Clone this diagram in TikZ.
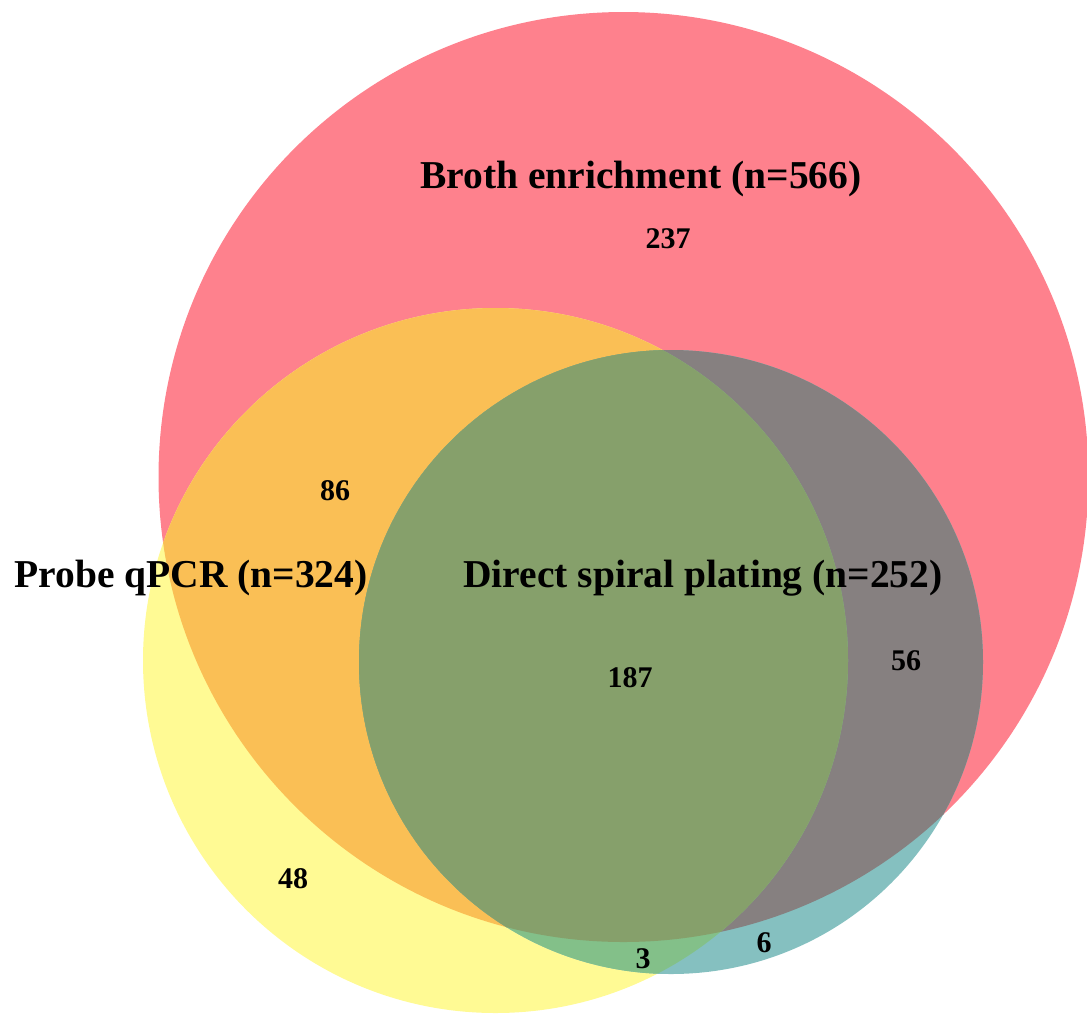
\documentclass[tikz,border=0pt]{standalone}
\usepackage{fontspec}
\setmainfont{Liberation Serif}
\definecolor{cR}{HTML}{FE818D}
\definecolor{cY}{HTML}{FFFA94}
\definecolor{cT}{HTML}{85C0C0}
\definecolor{cRY}{HTML}{FABF55}
\definecolor{cRT}{HTML}{868080}
\definecolor{cYT}{HTML}{83C089}
\definecolor{cRYT}{HTML}{86A06B}
\tikzset{
  setlabel/.style={anchor=base, inner sep=0pt, font=\fontsize{39.5}{40}\selectfont\bfseries},
  countlabel/.style={anchor=base, inner sep=0pt, font=\fontsize{30}{30}\selectfont\bfseries}
}
\begin{document}
\begin{tikzpicture}[x=1pt,y=-1pt]
\useasboundingbox (0,0) rectangle (1087,1013);
\def\circR{(623.5,477) circle (465)}
\def\circY{(495.5,660.5) circle (352.5)}
\def\circT{(671,662) circle (312)}
\fill[cR] \circR;
\fill[cY] \circY;
\fill[cT] \circT;
\begin{scope}
  \clip \circR;
  \fill[cRY] \circY;
  \fill[cRT] \circT;
\end{scope}
\begin{scope}
  \clip \circY;
  \fill[cYT] \circT;
\end{scope}
\begin{scope}
  \clip \circR;
  \clip \circY;
  \fill[cRYT] \circT;
\end{scope}
\node[setlabel] (broth) at (641,188) {Broth enrichment (n=566)};
\node[setlabel] (probe) at (191,587) {Probe qPCR (n=324)};
\node[setlabel] (direct) at (703,587) {Direct spiral plating (n=252)};
\node[countlabel] (n237) at (668,248) {237};
\node[countlabel] (n86) at (335,500) {86};
\node[countlabel] (n187) at (630,687) {187};
\node[countlabel] (n56) at (906,670) {56};
\node[countlabel] (n48) at (293,888) {48};
\node[countlabel] (n3) at (643,968) {3};
\node[countlabel] (n6) at (764,952) {6};
\end{tikzpicture}
\end{document}
